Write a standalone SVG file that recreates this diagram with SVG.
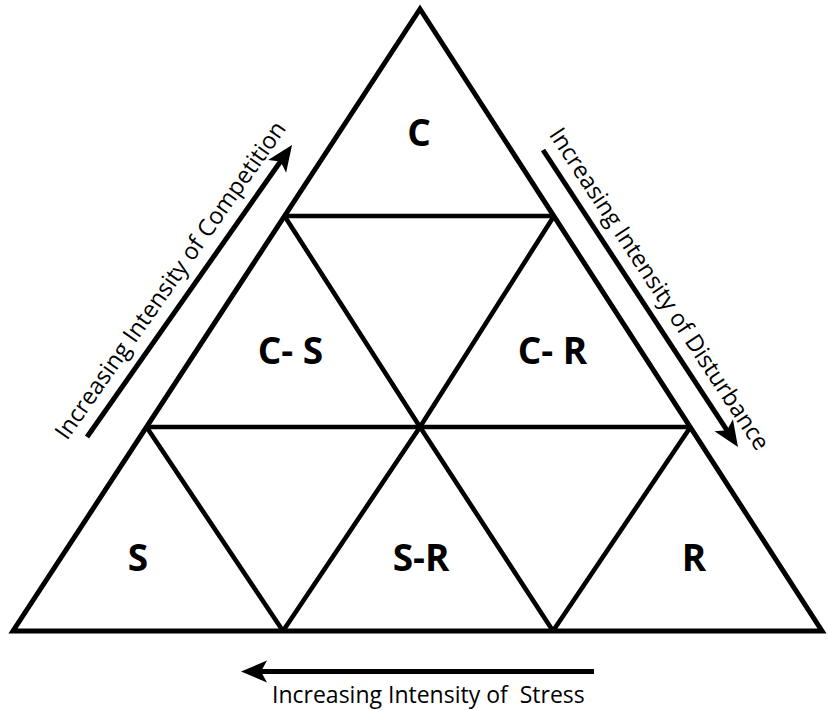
<svg xmlns="http://www.w3.org/2000/svg" width="828" height="710" viewBox="0 0 828 710">
  <style>
    .edge { fill: none; stroke: #000; stroke-width: 5; stroke-linejoin: miter; stroke-miterlimit: 10; }
    .grid { fill: none; stroke: #000; stroke-width: 4.6; stroke-linejoin: miter; }
    .axis { fill: none; stroke: #000; stroke-width: 5; stroke-linecap: butt; }
    .region { font-family: "Open Sans", "Liberation Sans", sans-serif; font-weight: bold; font-size: 37px; text-anchor: middle; fill: #000; }
    .axis-label { font-family: "Open Sans", "Liberation Sans", sans-serif; font-size: 23.5px; fill: #000; }
  </style>
  <defs>
    <marker id="head" viewBox="-20 -15 40 30" markerUnits="userSpaceOnUse" markerWidth="40" markerHeight="30" refX="0" refY="0" orient="auto">
      <path d="M14,0 L-12,-11 L-6,0 L-12,11 Z" fill="#000"/>
    </marker>
  </defs>

  <rect width="828" height="710" fill="#fff"/>

  <!-- outer triangle and its subdivision into nine cells -->
  <g id="frame">
    <polygon class="edge" points="420,9 13,631 822,631"/>
    <line class="grid" x1="284.5" y1="216" x2="554" y2="216"/>
    <line class="grid" x1="146.5" y1="427" x2="690.5" y2="427"/>
    <polyline class="grid" points="284.5,216 420,427 553,631"/>
    <polyline class="grid" points="554,216 420,427 283,631"/>
    <line class="grid" x1="146.5" y1="427" x2="283" y2="631"/>
    <line class="grid" x1="690.5" y1="427" x2="553" y2="631"/>
  </g>

  <!-- strategy cells -->
  <g id="cell-C"><text class="region" x="419" y="146">C</text></g>
  <g id="cell-CS"><text class="region" x="290.5" y="364">C- S</text></g>
  <g id="cell-CR"><text class="region" x="552.5" y="364">C- R</text></g>
  <g id="cell-S"><text class="region" x="138" y="571">S</text></g>
  <g id="cell-SR"><text class="region" x="421" y="571">S-R</text></g>
  <g id="cell-R"><text class="region" x="694" y="571">R</text></g>

  <!-- gradient arrows along the three sides -->
  <g id="axes">
    <line class="axis" x1="87" y1="437" x2="284" y2="156.5" marker-end="url(#head)"/>
    <line class="axis" x1="543" y1="150" x2="730.3" y2="435.3" marker-end="url(#head)"/>
    <line class="axis" x1="594" y1="671.5" x2="255" y2="671.5" marker-end="url(#head)"/>
  </g>

  <g id="axis-labels">
    <text class="axis-label" transform="translate(66.9,441.3) rotate(-54.9)">Increasing Intensity of Competition</text>
    <text class="axis-label" transform="translate(548.4,134.5) rotate(56.7)">Increasing Intensity of Disturbance</text>
    <text class="axis-label" x="272" y="703" style="font-size:23px">Increasing Intensity of&#160; Stress</text>
  </g>
</svg>
